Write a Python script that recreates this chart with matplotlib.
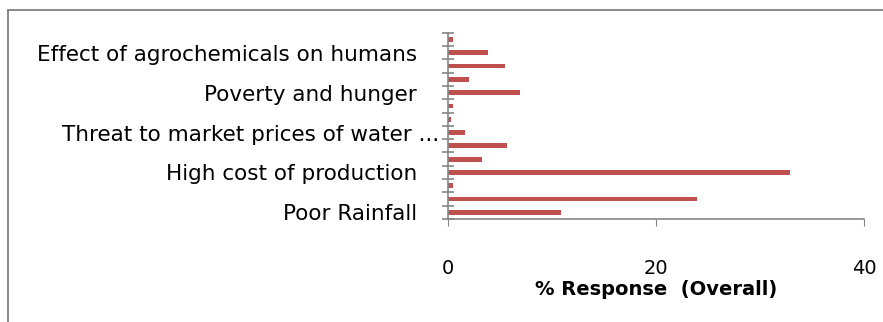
import numpy as np
import matplotlib.pyplot as plt
from matplotlib.transforms import ScaledTranslation
from matplotlib.patches import Rectangle

# categories listed bottom to top; only every third one carries a visible label
labels = ['Poor Rainfall', '', '', 'High cost of production', '', '',
          'Threat to market prices of water ...', '', '', 'Poverty and hunger',
          '', '', 'Effect of agrochemicals on humans', '']
values = [10.9, 23.9, 0.5, 32.9, 3.3, 5.7, 1.7, 0.3, 0.5, 6.9, 2.0, 5.5, 3.9, 0.5]

plt.rcParams['font.family'] = ['DejaVu Sans']
grey = '#868686'

fig = plt.figure(figsize=(8.83, 3.22), dpi=100)
ax = fig.add_axes([0.507, 0.32, 0.472, 0.578])

y = np.arange(len(values))
ax.barh(y, values, height=0.36, color='#C0504D')

ax.set_xlim(0, 40)
ax.set_ylim(-0.5, len(values) - 0.5)
ax.set_xticks([0, 20, 40])
ax.set_xticklabels(['0', '20', '40'], fontsize=14)
ax.tick_params(axis='x', length=5, direction='out', color=grey, pad=24)

# labels at category centres, tick marks on category boundaries
ax.set_yticks(y)
ax.set_yticklabels(labels, fontsize=15.5)
ax.set_yticks(np.arange(-0.5, len(values)), minor=True)
ax.tick_params(axis='y', which='major', length=0, pad=22)
ax.tick_params(axis='y', which='minor', length=9, direction='inout', color=grey, width=1.2)

lbl = ax.get_yticklabels()[6]
lbl.set_transform(lbl.get_transform() + ScaledTranslation(22 / 100, 0, fig.dpi_scale_trans))

for s in ['top', 'right']:
    ax.spines[s].set_visible(False)
for s in ['left', 'bottom']:
    ax.spines[s].set_color(grey)
    ax.spines[s].set_linewidth(1.2)

ax.set_xlabel('% Response  (Overall)', fontsize=14, fontweight='bold', labelpad=1)

# chart-area border
fig.patches.append(Rectangle((0.009, -0.05), 1.1, 1.019, transform=fig.transFigure,
                             fill=False, edgecolor='#7f7f7f', linewidth=1.3))

fig.savefig('out.png', dpi=100)
